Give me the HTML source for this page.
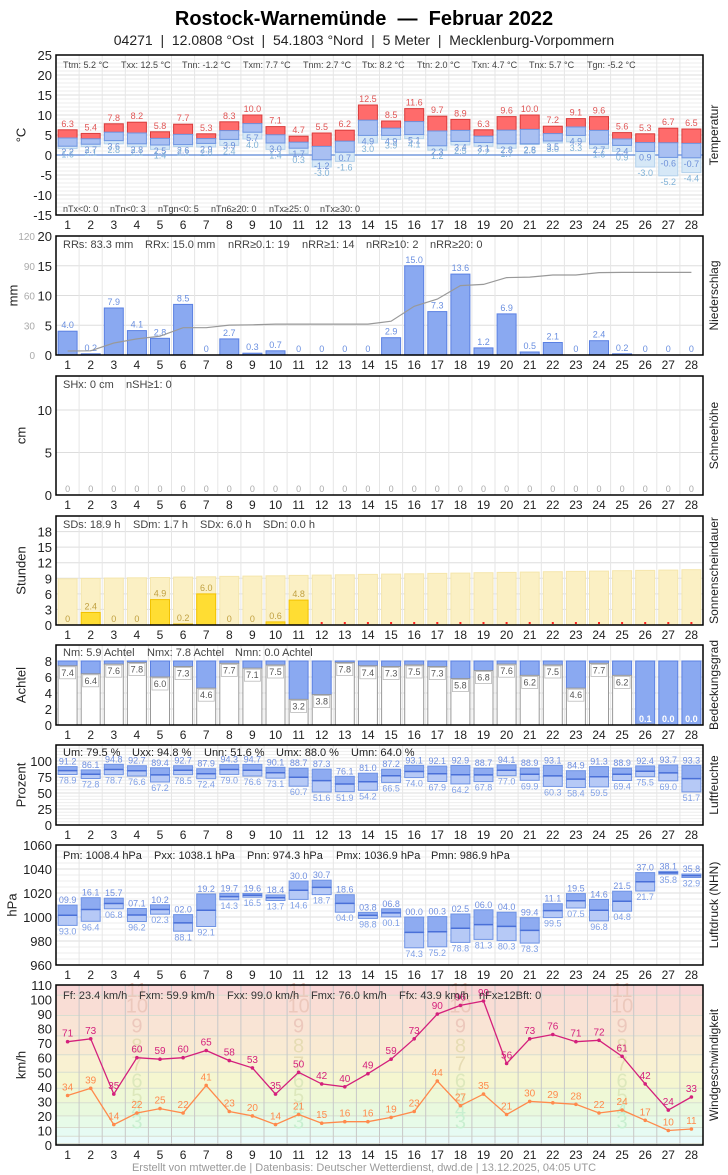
<!DOCTYPE html>
<html><head><meta charset="utf-8">
<style>
html,body{margin:0;padding:0;background:#fff;}
svg{display:block;font-family:"Liberation Sans",Arial,sans-serif;}
</style></head>
<body>
<svg id="s" width="728" height="1175" xmlns="http://www.w3.org/2000/svg">
<text x="364" y="25" text-anchor="middle" font-size="20" font-weight="bold" fill="#000" style="white-space:pre">Rostock-Warnemünde  —  Februar 2022</text>
<text x="364" y="45" text-anchor="middle" font-size="14" fill="#222" style="white-space:pre">04271  |  12.0808 °Ost  |  54.1803 °Nord  |  5 Meter  |  Mecklenburg-Vorpommern</text>
<text x="364" y="1171" text-anchor="middle" font-size="11" fill="#999">Erstellt von mtwetter.de | Datenbasis: Deutscher Wetterdienst, dwd.de | 13.12.2025, 04:05 UTC</text>
</svg>
<script>
var S=document.getElementById('s'),out='';
var L=56,R=703,CW=(R-L)/28;
function cx(i){return L+(i+0.5)*CW;}
function r(x,y,w,h,f,s,sw){if(h<0){y+=h;h=-h;}out+='<rect x="'+x.toFixed(1)+'" y="'+y.toFixed(1)+'" width="'+w.toFixed(1)+'" height="'+h.toFixed(1)+'" fill="'+f+'"'+(s?' stroke="'+s+'" stroke-width="'+(sw||1)+'"':'')+'/>';}
function t(x,y,s,sz,f,a,extra){out+='<text x="'+x.toFixed(1)+'" y="'+y.toFixed(1)+'" font-size="'+sz+'" fill="'+f+'" text-anchor="'+(a||'middle')+'"'+(extra||'')+'>'+s+'</text>';}
function ln(x1,y1,x2,y2,c,w){out+='<line x1="'+x1.toFixed(1)+'" y1="'+y1.toFixed(1)+'" x2="'+x2.toFixed(1)+'" y2="'+y2.toFixed(1)+'" stroke="'+c+'" stroke-width="'+(w||1)+'"/>';}
function P(top,bot,mn,mx){return function(v){return bot-(v-mn)*(bot-top)/(mx-mn);};}
function frame(top,bot,ylab,rlab,ticks,Y,minor,vgc,lx){
  lx=lx||22;
  if(minor)for(var v=minor[0];v<=minor[1];v+=minor[2])ln(L,Y(v),R,Y(v),'#eee');
  for(var i=0;i<ticks.length;i++){ln(L,Y(ticks[i]),R,Y(ticks[i]),'#ddd');t(52,Y(ticks[i])+5,ticks[i],13,'#222','end');}
  for(var i=1;i<28;i++)ln(L+i*CW,top,L+i*CW,bot,vgc||'#e6e6e6');
  for(var i=0;i<28;i++)t(cx(i),bot+14,i+1,12,'#222');
  var m=(top+bot)/2;
  t(lx,m,ylab,13,'#222','middle',' transform="rotate(-90 '+lx+' '+m+')" dominant-baseline="middle"');
  t(715,m,rlab,12,'#222','middle',' transform="rotate(-90 715 '+m+')" dominant-baseline="middle"');
}
function border(top,bot){out+='<rect x="'+L+'" y="'+top+'" width="'+(R-L)+'" height="'+(bot-top)+'" fill="none" stroke="#000" stroke-width="1.5"/>';}
var BW=19;
(function(){
var top=55,bot=215,Y=P(top,bot,-15,25);
var Tx=[6.3,5.4,7.8,8.2,5.8,7.7,5.3,8.3,10.0,7.1,4.7,5.5,6.2,12.5,8.5,11.6,9.7,8.9,6.3,9.6,10.0,7.2,9.1,9.6,5.6,5.3,6.7,6.5];
var Tn=[2.2,2.7,3.6,2.8,2.5,2.6,2.9,3.9,5.7,3.0,1.7,-1.2,0.7,4.9,4.9,5.1,2.3,3.4,3.1,2.8,2.8,3.5,4.9,2.7,2.4,0.9,-0.6,-0.7];
var Tg=[1.6,2.1,2.8,2.1,1.4,2.1,2.0,2.4,4.0,1.4,0.3,-3.0,-1.6,3.0,3.9,4.1,1.2,2.5,2.2,1.7,2.6,3.0,3.3,1.6,0.9,-3.0,-5.2,-4.4];
frame(top,bot,'°C','Temperatur',[-15,-10,-5,0,5,10,15,20,25],Y,[-15,25,1]);
ln(L,Y(0),R,Y(0),'#5b86d6',1.2);
for(var i=0;i<28;i++){var x=cx(i)-BW/2,m=(Tx[i]+Tn[i])/2;
 r(x,Y(Tn[i]),BW,Y(Tg[i])-Y(Tn[i]),'#d6e8f7','#b4d2ec');
 r(x,Y(Tx[i]),BW,Y(m)-Y(Tx[i]),'#ff6b6b','#d83b3b');
 r(x,Y(m),BW,Y(Tn[i])-Y(m),'#a9c0f2','#6f95e2');
 t(cx(i),Y(Tx[i])-3,Tx[i].toFixed(1),9,'#e05555');
 t(cx(i),Y(Tn[i])+9,Tn[i].toFixed(1),9,'#6b8ed8');
 t(cx(i),Y(Tg[i])+9,Tg[i].toFixed(1),9,'#80b2d8');}
var st=[['Ttm: 5.2 °C',63],['Txx: 12.5 °C',121],['Tnn: -1.2 °C',182],['Txm: 7.7 °C',243],['Tnm: 2.7 °C',303],['Ttx: 8.2 °C',362],['Ttn: 2.0 °C',417],['Txn: 4.7 °C',472],['Tnx: 5.7 °C',529],['Tgn: -5.2 °C',587]];
st.forEach(function(a){t(a[1],68,a[0],9,'#444','start');});
[['nTx&lt;0: 0',63],['nTn&lt;0: 3',110],['nTgn&lt;0: 5',158],['nTn6≥20: 0',211],['nTx≥25: 0',269],['nTx≥30: 0',320]].forEach(function(a){t(a[1],212,a[0],9,'#444','start');});
border(top,bot);})();
(function(){
var top=236,bot=355,Y=P(top,bot,0,20),Y2=P(top,bot,0,120);
var p=[4.0,0.2,7.9,4.1,2.8,8.5,0,2.7,0.3,0.7,0,0,0,0,2.9,15.0,7.3,13.6,1.2,6.9,0.5,2.1,0,2.4,0.2,0,0,0];
frame(top,bot,'mm','Niederschlag',[0,5,10,15,20],Y,null,null,14);
[0,30,60,90,120].forEach(function(v){t(35,Y2(v)+4,v,10,'#aaa','end');});
var c=0,pts=[];
for(var i=0;i<28;i++){c+=p[i];pts.push(cx(i).toFixed(1)+','+Y2(c).toFixed(1));
 if(p[i]>0)r(cx(i)-BW/2,Y(p[i]),BW,Y(0)-Y(p[i]),'#8aa9f1','#5a80e2');
 t(cx(i),Y(p[i])-3,p[i]==0?'0':p[i].toFixed(1),9,'#6a8fe0');}
out+='<polyline points="'+pts.join(' ')+'" fill="none" stroke="#999" stroke-width="1.2"/>';
t(63,248,'RRs: 83.3 mm',11,'#444','start');t(145,248,'RRx: 15.0 mm',11,'#444','start');t(228,248,'nRR≥0.1: 19',11,'#444','start');t(302,248,'nRR≥1: 14',11,'#444','start');t(366,248,'nRR≥10: 2',11,'#444','start');t(430,248,'nRR≥20: 0',11,'#444','start');
border(top,bot);})();
(function(){
var top=376,bot=495,Y=P(top,bot,0,14);
frame(top,bot,'cm','Schneehöhe',[0,5,10],Y);
for(var i=0;i<28;i++)t(cx(i),bot-3,'0',9,'#aaa');
t(63,388,'SHx: 0 cm',11,'#444','start');t(126,388,'nSH≥1: 0',11,'#444','start');
border(top,bot);})();
(function(){
var top=516,bot=625,Y=P(top,bot,0,21);
var s=[0,2.4,0,0,4.9,0.2,6.0,0,0,0.6,4.8];
frame(top,bot,'Stunden','Sonnenscheindauer',[0,3,6,9,12,15,18],Y);
for(var i=0;i<28;i++){var d=8.9+1.75*i/27;r(cx(i)-BW/2,Y(d),BW,Y(0)-Y(d),'#fbf0c4','#f5e6ad');
 if(i<11){if(s[i]>0)r(cx(i)-BW/2,Y(s[i]),BW,Y(0)-Y(s[i]),'#ffdd33','#f2c200');t(cx(i),Y(s[i])-3,s[i]==0?'0':s[i].toFixed(1),9,'#c0a040');}
 else r(cx(i)-1,Y(0)-3,2,2,'#f22');}
t(63,528,'SDs: 18.9 h',11,'#444','start');t(133,528,'SDm: 1.7 h',11,'#444','start');t(200,528,'SDx: 6.0 h',11,'#444','start');t(263,528,'SDn: 0.0 h',11,'#444','start');
border(top,bot);})();
(function(){
var top=645,bot=725,Y=P(top,bot,0,10);
var n=[7.4,6.4,7.6,7.8,6.0,7.3,4.6,7.7,7.1,7.5,3.2,3.8,7.8,7.4,7.3,7.5,7.3,5.8,6.8,7.6,6.2,7.5,4.6,7.7,6.2,0.1,0.0,0.0];
frame(top,bot,'Achtel','Bedeckungsgrad',[0,2,4,6,8],Y);
for(var i=0;i<28;i++){var x=cx(i)-BW/2;
 r(x,Y(8),BW,Y(n[i])-Y(8),'#8aa9f1','#5a80e2');
 if(n[i]>0.05){r(x,Y(n[i]),BW,Y(0)-Y(n[i]),'#fff','#999');}
 if(n[i]<1)t(cx(i),Y(0)-3,n[i].toFixed(1),9,'#fff','middle',' font-weight="bold"');
 else{r(cx(i)-8,Y(n[i])+1,16,12,'#fff','#bbb',0.8);t(cx(i),Y(n[i])+10,n[i].toFixed(1),9,'#555');}}
t(63,656,'Nm: 5.9 Achtel',11,'#444','start');t(147,656,'Nmx: 7.8 Achtel',11,'#444','start');t(235,656,'Nmn: 0.0 Achtel',11,'#444','start');
border(top,bot);})();
function boxes(Y,mx,mn,lab){
 for(var i=0;i<28;i++){var x=cx(i)-BW/2,m=(mx[i]+mn[i])/2;
  r(x,Y(mx[i]),BW,Y(m)-Y(mx[i]),'#8eabf1','#6f93e4');
  r(x,Y(m),BW,Y(mn[i])-Y(m),'#b6c9f6','#6f93e4');
  ln(x,Y(m),x+BW,Y(m),'#4a70d8',1.5);
  t(cx(i),Y(mx[i])-2,lab(mx[i]),9,'#6f8fe0');
  t(cx(i),Y(mn[i])+9,lab(mn[i]),9,'#7f9fe6');}}
(function(){
var top=745,bot=825,Y=P(top,bot,0,125);
var mx=[91.2,86.1,94.8,92.7,89.4,92.7,87.9,94.3,94.7,90.1,88.7,87.3,76.1,81.0,87.2,93.1,92.1,92.9,88.7,94.1,88.9,93.1,84.9,91.3,88.9,92.4,93.7,93.3];
var mn=[78.9,72.8,78.7,76.6,67.2,78.5,72.4,79.0,76.6,73.1,60.7,51.6,51.9,54.2,66.5,74.0,67.9,64.2,67.8,77.0,69.9,60.3,58.4,59.5,69.4,75.5,69.0,51.7];
frame(top,bot,'Prozent','Luftfeuchte',[0,25,50,75,100],Y,[0,125,5]);
boxes(Y,mx,mn,function(v){return v.toFixed(1);});
t(63,756,'Um: 79.5 %',11,'#222','start');t(132,756,'Uxx: 94.8 %',11,'#222','start');t(204,756,'Unn: 51.6 %',11,'#222','start');t(276,756,'Umx: 88.0 %',11,'#222','start');t(351,756,'Umn: 64.0 %',11,'#222','start');
border(top,bot);})();
(function(){
var top=845,bot=965,Y=P(top,bot,960,1060);
var mx=[1009.9,1016.1,1015.7,1007.1,1010.2,1002.0,1019.2,1019.7,1019.6,1018.4,1030.0,1030.7,1018.6,1003.8,1006.8,1000.0,1000.3,1002.5,1006.0,1004.0,999.4,1011.1,1019.5,1014.6,1021.5,1037.0,1038.1,1035.8];
var mn=[993.0,996.4,1006.8,996.2,1002.3,988.1,992.1,1014.3,1016.5,1013.7,1014.6,1018.7,1004.0,998.8,1000.1,974.3,975.2,978.8,981.3,980.3,978.3,999.5,1007.5,996.8,1004.8,1021.7,1035.8,1032.9];
frame(top,bot,'hPa','Luftdruck (NHN)',[960,980,1000,1020,1040,1060],Y,[960,1060,5],null,13);
boxes(Y,mx,mn,function(v){var s=v.toFixed(1);return s.length>5?s.slice(2):s.slice(1);});
t(63,859,'Pm: 1008.4 hPa',11,'#222','start');t(154,859,'Pxx: 1038.1 hPa',11,'#222','start');t(247,859,'Pnn: 974.3 hPa',11,'#222','start');t(336,859,'Pmx: 1036.9 hPa',11,'#222','start');t(431,859,'Pmn: 986.9 hPa',11,'#222','start');
border(top,bot);})();
(function(){
var top=985,bot=1145,Y=P(top,bot,0,110);
var th=[0,1,6,12,20,29,39,50,62,75,89,103,110];
var col=['#effcff','#eafbfb','#e6fbf3','#e7fbe8','#e9f9de','#eff8d6','#f5f6d0','#f9f1d2','#f9ead3','#f9e4d5','#f9ddd5','#f9d6d6'];
for(var b=0;b<12;b++){r(L,Y(th[b+1]),R-L,Y(th[b])-Y(th[b+1]),col[b]);ln(L,Y(th[b]),R,Y(th[b]),'#d8ddd0');}
[3,4,5,6,7,8,9,10,11].forEach(function(b){var yy=(Y(th[b])+Y(Math.min(th[b+1],110)))/2;
 var c=b<=4?'#c8efd0':(b<=6?'#dde8bc':(b<=8?'#e6dcb4':'#ecc8bc'));
 [3,10,17,24].forEach(function(d){t(cx(d),yy+7,b,20,c);});});
for(var i=1;i<28;i++)ln(L+i*CW,top,L+i*CW,bot,'#c8c8c8');
for(var i=0;i<28;i++)t(cx(i),bot+14,i+1,12,'#222');
[0,10,20,30,40,50,60,70,80,90,100,110].forEach(function(v){t(52,Y(v)+5,v,13,'#222','end');});
var m=(top+bot)/2;
t(22,m,'km/h',13,'#222','middle',' transform="rotate(-90 22 '+m+')" dominant-baseline="middle"');
t(715,m,'Windgeschwindigkeit',12,'#222','middle',' transform="rotate(-90 715 '+m+')" dominant-baseline="middle"');
var fx=[71,73,35,60,59,60,65,58,53,35,50,42,40,49,59,73,90,96,99,56,73,76,71,72,61,42,24,33];
var ff=[34,39,14,22,25,22,41,23,20,14,21,15,16,16,19,23,44,27,35,21,30,29,28,22,24,17,10,11];
function line(d,c){var pts=[];for(var i=0;i<28;i++){pts.push(cx(i).toFixed(1)+','+Y(d[i]).toFixed(1));}
 out+='<polyline points="'+pts.join(' ')+'" fill="none" stroke="'+c+'" stroke-width="1.3"/>';
 for(var i=0;i<28;i++){out+='<circle cx="'+cx(i).toFixed(1)+'" cy="'+Y(d[i]).toFixed(1)+'" r="1.8" fill="'+c+'"/>';t(cx(i),Y(d[i])-5,d[i],10,c);}}
line(ff,'#ff8a4c');line(fx,'#d4207c');
t(63,999,'Ff: 23.4 km/h',11,'#333','start');t(139,999,'Fxm: 59.9 km/h',11,'#333','start');t(227,999,'Fxx: 99.0 km/h',11,'#333','start');t(311,999,'Fmx: 76.0 km/h',11,'#333','start');t(399,999,'Ffx: 43.9 km/h',11,'#333','start');t(479,999,'nFx≥12Bft: 0',11,'#333','start');
border(top,bot);})();
S.insertAdjacentHTML('beforeend',out);
</script>
</body></html>
